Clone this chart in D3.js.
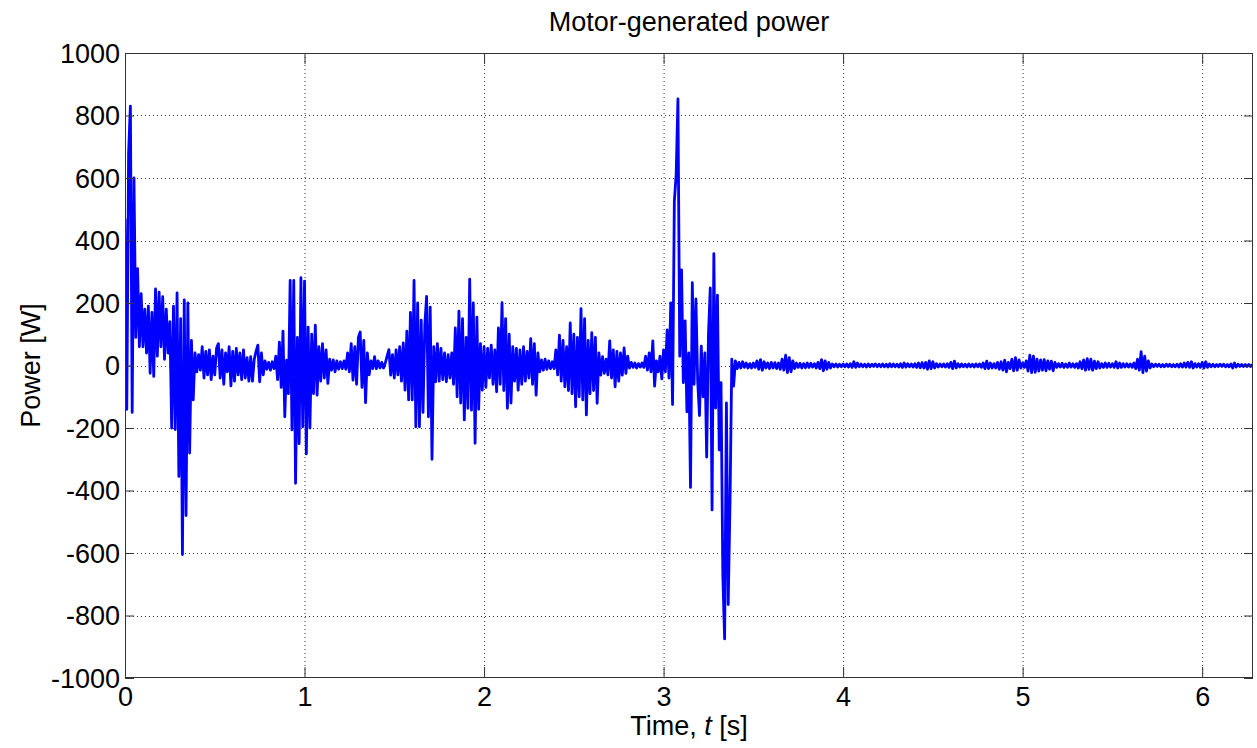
<!DOCTYPE html>
<html>
<head>
<meta charset="utf-8">
<script src="https://cdn.jsdelivr.net/npm/d3@7"></script>
<style>
    body { margin: 0; background: #fff; }
    svg { display: block; font-family: "Liberation Sans", Arial, sans-serif; }
</style>
</head>
<body>
<div id="chart"></div>
<script>
// sampled every 0.01 s, starting at t = 0
const timeStep = 0.01;

// motor-generated power [W] (one row = 0.1 s)
const power = [
    470, -140, 680, 830, -150, 600, 90, 310, 60, 230,
    60, 180, 40, 190, -25, 170, -35, 245, 30, 235,
    60, 220, 20, 180, 40, 140, -200, 190, -205, 232,
    -355, 150, -605, 210, -480, 200, -280, 80, -110, 40,
    -20, 35, -15, 60, -40, 45, -30, 50, -45, 30,
    -30, 55, 70, -40, 50, -60, 40, -20, 60, -65,
    45, -50, 55, -30, 40, -45, 50, -40, 25, -50,
    28, -50, 20, 45, 65, -52, 40, -30, 15, -12,
    10, -15, 12, -10, 30, -45, 75, -70, 110, -164,
    17, -90, 272, -206, 272, -377, 90, -250, 281, -196,
    270, -283, 123, -200, 100, -90, 129, -95, 60, -50,
    70, -40, 50, -57, 20, -15, 18, -20, 15, -12,
    12, -10, 15, -12, 40, -20, 70, -47, 60, -60,
    90, 107, -70, 80, -119, 40, -30, 15, -10, 28,
    -10, 15, -8, 10, -8, 8, 30, 51, -31, 35,
    -40, 50, -30, 60, -50, 72, -79, 110, -110, 170,
    -110, 272, -196, 200, -196, 145, -150, 130, 221, -164,
    187, -300, 60, -52, 70, -50, 55, -45, 40, -52,
    35, -40, 40, -60, 120, -100, 174, -120, 150, -174,
    90, -137, 276, -143, 200, -249, 155, -140, 70, -79,
    60, -70, 55, -40, 65, -60, 50, -84, 120, -60,
    201, -80, 150, -137, 100, -120, 60, -50, 55, -79,
    50, -60, 60, -50, 45, -40, 86, -60, 70, -95,
    40, -20, 18, -15, 20, -12, 15, -10, 12, -10,
    50, -30, 97, -50, 80, -68, 60, -80, 136, -90,
    100, -132, 90, -100, 182, -110, 150, -158, 80, -90,
    105, -80, 90, -121, 40, -31, 28, -25, 20, -30,
    79, -40, 50, -68, 45, -50, 40, -31, 56, -25,
    30, -8, 10, -6, 8, -8, 6, -5, 8, -6,
    30, -15, 40, -20, 79, -66, 15, -20, 30, -43,
    50, -20, 114, -40, 200, -125, 527, 609, 853, 30,
    306, -55, 143, -148, 40, -390, 265, -60, 213, -50,
    -160, 62, -100, 40, -293, 100, 248, -462, 358, -136,
    225, -270, -55, -672, -875, -120, -765, -439, 20, -66,
    15, -10, 10, -8, 12, -6, 8, -8, 6, -8,
    8, -6, 15, -12, 19, -15, 12, -8, 8, -10,
    10, -8, 9, -10, 8, -12, 20, -15, 33, -23,
    25, -20, 15, -10, 8, -6, 7, -8, 6, -7,
    8, -6, 7, -5, 6, -8, 10, -10, 19, -17,
    15, -12, 10, -8, 5, -4, 5, -5, 4, -4,
    5, -4, 5, -5, 6, -6, 12, -6, 8, -4,
    5, -4, 4, -5, 5, -4, 4, -3, 5, -4,
    4, -4, 5, -4, 4, -5, 6, -4, 5, -4,
    4, -5, 6, -6, 8, -5, 6, -4, 5, -5,
    6, -6, 8, -7, 9, -8, 10, -12, 15, -10,
    12, -8, 6, -5, 5, -4, 5, -5, 6, -6,
    10, -10, 14, -8, 6, -5, 5, -4, 4, -5,
    5, -4, 4, -5, 5, -4, 5, -6, 8, -10,
    14, -10, 8, -8, 6, -8, 10, -12, 12, -15,
    17, -20, 10, -10, 20, -17, 25, -15, 18, -8,
    8, -6, 15, -18, 33, -23, 30, -22, 20, -18,
    18, -15, 19, -17, 15, -12, 14, -17, 10, -6,
    6, -5, 7, -6, 5, -6, 8, -5, 6, -6,
    6, -8, 12, -10, 18, -15, 22, -12, 20, -15,
    14, -10, 12, -8, 6, -6, 8, -6, 7, -5,
    6, -6, 12, -8, 8, -6, 6, -5, 6, -5,
    5, -6, 8, -10, 20, -15, 44, -23, 30, -18,
    15, -8, 5, -4, 4, -3, 4, -4, 3, -4,
    4, -3, 4, -4, 3, -4, 4, -5, 6, -5,
    8, -5, 10, -6, 12, -8, 6, -5, 6, -6,
    10, -8, 12, -6, 5, -4, 4, -4, 3, -3,
    4, -3, 4, -4, 3, -4, 5, -8, 8, -5,
    4, -3, 3, -3, 3, -3, 3, -3, 3
];

const xTicks = [0, 1, 2, 3, 4, 5, 6];
const yTicks = [-1000, -800, -600, -400, -200, 0, 200, 400, 600, 800, 1000];
const xMax = 2 * Math.PI;

let margin = {top: 53, right: 4, bottom: 70, left: 125},
    width = 1257 - margin.left - margin.right,
    height = 748 - margin.top - margin.bottom;

let svg = d3.select("#chart").append("svg")
    .attr("width", 1257)
    .attr("height", 748);

let g = svg.append("g").attr("transform", "translate(" + margin.left + "," + margin.top + ")");

let xScale = d3.scaleLinear().domain([0, xMax]).range([0, width]);
let yScale = d3.scaleLinear().domain([-1000, 1000]).range([height, 0]);

//Dotted grid
g.append("g").selectAll("line")
    .data(xTicks.slice(1))
    .enter().append("line")
    .attr("x1", d => xScale(d) + 0.5).attr("x2", d => xScale(d) + 0.5)
    .attr("y1", 0).attr("y2", height)
    .attr("stroke", "#333").attr("stroke-dasharray", "1,3");

g.append("g").selectAll("line")
    .data(yTicks.slice(1, -1))
    .enter().append("line")
    .attr("x1", 0).attr("x2", width)
    .attr("y1", d => Math.round(yScale(d)) + 0.5).attr("y2", d => Math.round(yScale(d)) + 0.5)
    .attr("stroke", "#333").attr("stroke-dasharray", "1,3");

//Power trace
g.append("clipPath").attr("id", "plotArea")
    .append("rect").attr("width", width).attr("height", height);

let powerLine = d3.line()
    .x((d, i) => xScale(i * timeStep))
    .y(d => yScale(d));

g.append("path")
    .datum(power)
    .attr("clip-path", "url(#plotArea)")
    .attr("fill", "none")
    .attr("stroke", "#0000ff")
    .attr("stroke-width", 2.8)
    .attr("stroke-linejoin", "round")
    .attr("d", powerLine);

//Axes, ticks pointing inwards
let xAxis = g.append("g")
    .attr("transform", "translate(0," + height + ")")
    .call(d3.axisBottom(xScale).tickValues(xTicks).tickFormat(d => String(d))
        .tickSizeInner(-11).tickSizeOuter(0).tickPadding(9));

let yAxis = g.append("g")
    .call(d3.axisLeft(yScale).tickValues(yTicks).tickFormat(d => String(d))
        .tickSizeInner(-9).tickSizeOuter(0).tickPadding(5));

//mirrored ticks on top and right
g.append("g")
    .call(d3.axisTop(xScale).tickValues(xTicks).tickFormat("").tickSizeInner(-11).tickSizeOuter(0));
g.append("g")
    .attr("transform", "translate(" + width + ",0)")
    .call(d3.axisRight(yScale).tickValues(yTicks).tickFormat("").tickSizeInner(-9).tickSizeOuter(0));

g.selectAll(".domain").remove();
g.selectAll(".tick line").attr("stroke", "#333");
g.selectAll(".tick text")
    .attr("fill", "#000")
    .style("font-size", "27px");
yAxis.selectAll(".tick text").attr("dy", "0.35em");

g.append("rect")
    .attr("x", 0.5).attr("y", 0.5)
    .attr("width", width - 1).attr("height", height - 1)
    .attr("fill", "none")
    .attr("stroke", "#333");

//Labels
svg.append("text")
    .attr("x", margin.left + width / 2)
    .attr("y", 31)
    .attr("text-anchor", "middle")
    .style("font-size", "27px")
    .text("Motor-generated power");

let xLabel = svg.append("text")
    .attr("x", margin.left + width / 2)
    .attr("y", 735)
    .attr("text-anchor", "middle")
    .style("font-size", "27px");
xLabel.append("tspan").text("Time, ");
xLabel.append("tspan").style("font-style", "italic").text("t");
xLabel.append("tspan").text(" [s]");

svg.append("text")
    .attr("transform", "translate(40," + (margin.top + height / 2) + ") rotate(-90)")
    .attr("text-anchor", "middle")
    .style("font-size", "27px")
    .text("Power [W]");
</script>
</body>
</html>
